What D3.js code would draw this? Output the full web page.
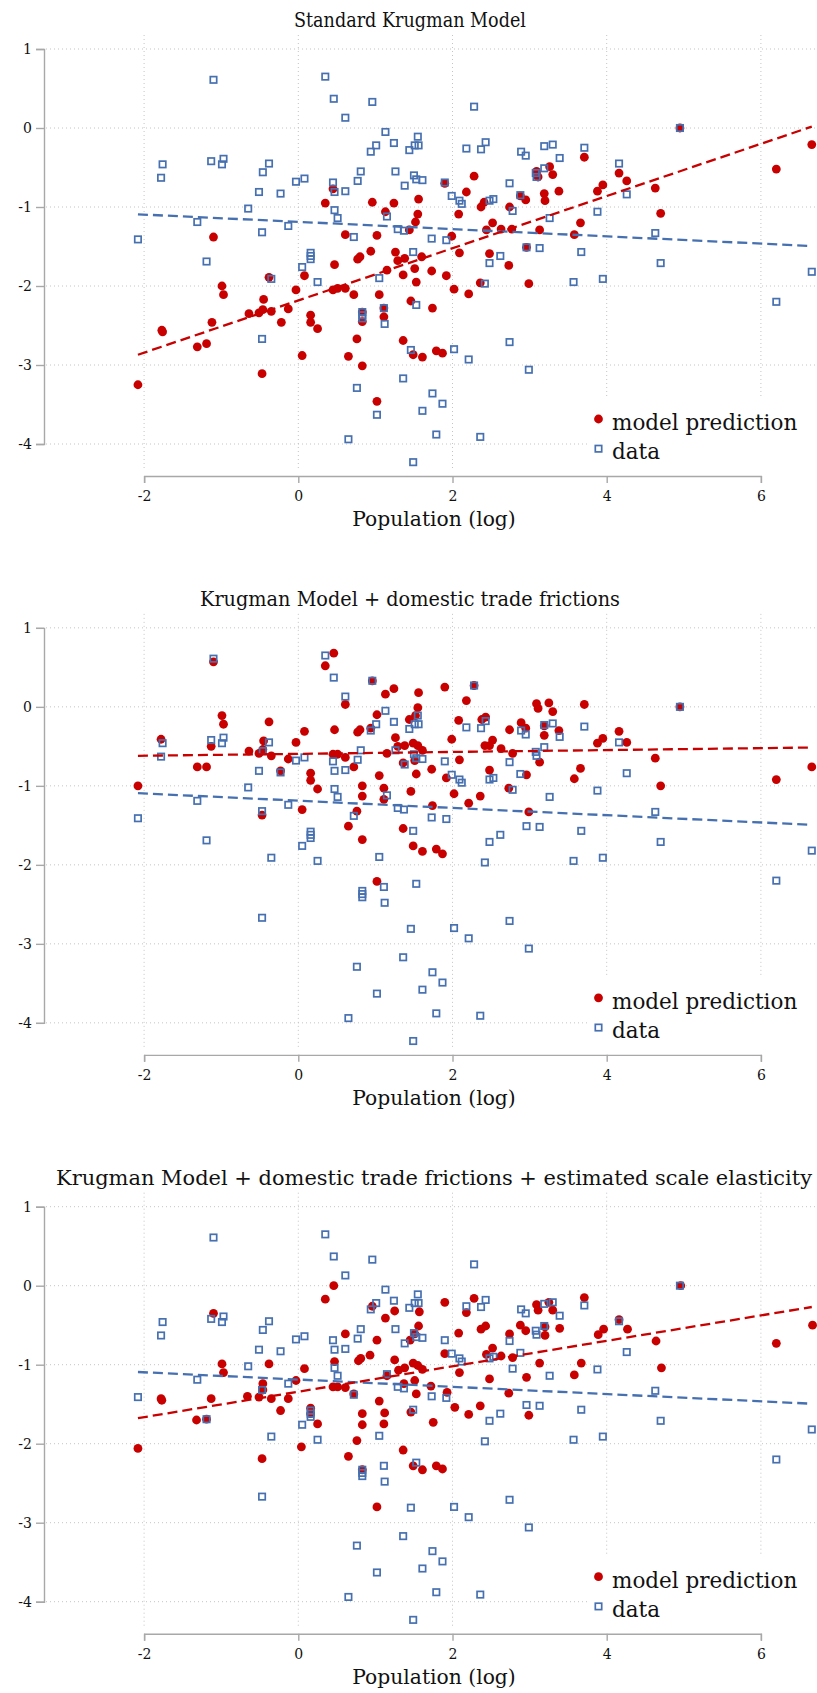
<!DOCTYPE html>
<html><head><meta charset="utf-8">
<script src="https://cdn.jsdelivr.net/npm/d3@7"></script>
<style>body{margin:0;background:#fff} svg{display:block}</style>
</head><body><svg id="c" width="817" height="1693"></svg>
<script>
const titles = [
  "Standard Krugman Model",
  "Krugman Model + domestic trade frictions",
  "Krugman Model + domestic trade frictions + estimated scale elasticity"
];
const xTicks = [-2, 0, 2, 4, 6];
const yTicks = [1, 0, -1, -2, -3, -4];
const xLabel = "Population (log)";
const legendLabels = ["model prediction", "data"];

// observed data (same in all panels): [log population, value]
const dataPts = [
[-1.10,0.61],[0.35,0.65],[0.46,0.37],[0.96,0.33],[0.61,0.13],[1.13,-0.05],[1.01,-0.22],[0.94,-0.30],
[1.24,-0.19],[1.55,-0.11],[1.51,-0.22],[1.56,-0.22],[1.44,-0.28],[-1.76,-0.46],[-1.78,-0.63],[-1.13,-0.42],
[-0.99,-0.46],[-0.97,-0.39],[-0.38,-0.45],[-0.46,-0.56],[-0.03,-0.68],[0.08,-0.64],[-0.51,-0.81],[-0.23,-0.83],
[0.45,-0.69],[0.47,-0.81],[0.61,-0.80],[0.81,-0.55],[0.77,-0.67],[1.26,-0.55],[1.50,-0.60],[1.53,-0.65],
[1.61,-0.66],[1.38,-0.73],[1.90,-0.69],[1.99,-0.86],[2.09,-0.92],[2.12,-0.96],[-0.65,-1.02],[-1.31,-1.19],
[-2.08,-1.41],[-0.47,-1.32],[-0.13,-1.24],[0.47,-1.04],[0.51,-1.14],[1.15,-1.12],[1.29,-1.28],[1.37,-1.30],
[0.72,-1.38],[1.73,-1.40],[1.92,-1.42],[1.49,-1.57],[0.16,-1.58],[0.16,-1.62],[0.16,-1.66],[-1.19,-1.69],
[0.05,-1.76],[2.28,0.27],[2.18,-0.26],[2.37,-0.27],[2.43,-0.18],[2.89,-0.30],[2.95,-0.35],[3.19,-0.23],
[3.30,-0.21],[3.39,-0.38],[3.71,-0.25],[4.16,-0.45],[4.95,0.00],[3.08,-0.57],[3.09,-0.62],[3.19,-0.51],
[2.74,-0.70],[2.88,-0.85],[2.48,-0.92],[2.53,-0.90],[2.78,-1.05],[3.26,-1.14],[3.88,-1.06],[4.26,-0.84],
[4.63,-1.33],[2.96,-1.51],[3.13,-1.52],[2.62,-1.62],[2.48,-1.71],[3.67,-1.57],[4.70,-1.71],[6.66,-1.82],
[2.42,-1.97],[3.57,-1.95],[3.95,-1.91],[6.20,-2.20],[2.02,-2.80],[2.21,-2.93],[2.74,-2.71],[2.99,-3.06],
[1.87,-3.49],[2.36,-3.91],[1.79,-3.88],[-0.35,-1.91],[0.25,-1.95],[1.05,-1.90],[0.83,-2.33],[0.83,-2.37],
[0.83,-2.41],[1.11,-2.28],[1.12,-2.48],[1.53,-2.24],[-0.47,-2.67],[1.46,-2.81],[1.36,-3.17],[0.76,-3.29],
[1.74,-3.36],[1.61,-3.58],[1.02,-3.63],[0.65,-3.94],[1.49,-4.23]
];

// model predictions, panel 1: standard Krugman model
const model1Pts = [
[0.45,-0.77],[0.35,-0.95],[0.96,-0.94],[1.24,-0.95],[1.56,-0.90],[1.13,-1.06],[1.55,-1.09],[1.52,-1.19],
[1.44,-1.29],[0.61,-1.35],[1.02,-1.36],[-1.10,-1.38],[1.90,-0.70],[2.08,-1.09],[1.99,-1.37],[2.09,-1.58],
[0.94,-1.56],[1.26,-1.57],[0.80,-1.63],[0.77,-1.66],[0.47,-1.73],[1.29,-1.68],[1.38,-1.65],[1.60,-1.63],
[1.51,-1.78],[1.15,-1.80],[1.73,-1.81],[1.36,-1.86],[1.92,-1.87],[2.02,-2.04],[1.53,-1.95],[-0.99,-2.00],
[-0.97,-2.11],[-0.38,-1.89],[0.08,-1.87],[-0.03,-2.05],[0.45,-2.05],[0.51,-2.03],[0.61,-2.03],[0.72,-2.11],
[1.05,-2.11],[-0.45,-2.17],[-0.64,-2.35],[-0.51,-2.34],[-0.46,-2.30],[-0.35,-2.32],[-0.13,-2.29],[0.16,-2.37],
[0.16,-2.46],[0.25,-2.54],[-0.22,-2.46],[-1.12,-2.46],[-1.77,-2.56],[-1.76,-2.58],[-1.31,-2.77],[-1.19,-2.73],
[0.83,-2.33],[0.83,-2.45],[1.11,-2.28],[1.11,-2.39],[1.46,-2.19],[1.74,-2.28],[0.76,-2.67],[1.36,-2.69],
[1.49,-2.87],[1.61,-2.90],[1.79,-2.82],[1.87,-2.85],[0.05,-2.88],[0.65,-2.89],[0.83,-3.01],[-0.47,-3.11],
[-2.08,-3.25],[1.02,-3.46],[2.21,-2.10],[2.36,-1.96],[2.73,-1.74],[2.99,-1.97],[2.28,-0.61],[2.18,-0.81],
[2.37,-1.00],[2.41,-0.94],[2.52,-1.20],[2.44,-1.29],[2.63,-1.28],[2.77,-1.28],[2.74,-1.00],[2.88,-0.86],
[2.95,-0.91],[3.09,-0.55],[3.11,-0.62],[3.26,-0.49],[3.30,-0.59],[3.19,-0.83],[3.20,-0.92],[3.38,-0.80],
[3.13,-1.29],[2.48,-1.59],[2.96,-1.51],[3.71,-0.37],[3.88,-0.80],[3.95,-0.72],[4.16,-0.57],[4.26,-0.67],
[4.63,-0.76],[4.70,-1.08],[3.66,-1.20],[3.58,-1.35],[4.95,0.00],[6.20,-0.52],[6.66,-0.21]
];

// panel 2: + domestic trade frictions
const model2Pts = [
[0.46,0.68],[0.35,0.52],[-1.10,0.57],[0.96,0.33],[1.13,0.16],[1.24,0.23],[1.56,0.18],[1.90,0.25],
[0.61,0.03],[1.55,-0.01],[1.02,-0.10],[1.52,-0.11],[1.44,-0.16],[2.08,-0.17],[-0.99,-0.11],[-0.97,-0.22],
[-0.38,-0.19],[0.08,-0.31],[-0.03,-0.45],[0.47,-0.29],[0.80,-0.29],[0.77,-0.32],[0.94,-0.27],[1.26,-0.39],
[1.99,-0.41],[-1.78,-0.41],[-1.13,-0.50],[-0.45,-0.43],[-0.64,-0.56],[-0.51,-0.59],[-0.46,-0.54],[-0.35,-0.62],
[-0.13,-0.66],[0.45,-0.60],[0.51,-0.60],[0.61,-0.64],[0.72,-0.76],[1.29,-0.50],[1.38,-0.49],[1.49,-0.46],
[1.55,-0.49],[1.61,-0.55],[1.15,-0.59],[1.51,-0.68],[1.36,-0.71],[2.09,-0.67],[1.73,-0.79],[1.53,-0.85],
[1.92,-0.90],[2.02,-1.10],[-1.31,-0.76],[-1.19,-0.76],[-0.23,-0.81],[0.16,-0.84],[0.16,-0.93],[0.25,-1.04],
[1.05,-0.87],[0.83,-1.00],[0.83,-1.13],[1.11,-1.03],[1.11,-1.17],[1.46,-1.07],[1.74,-1.25],[-2.08,-1.00],
[-0.47,-1.37],[0.05,-1.30],[0.76,-1.32],[0.65,-1.51],[0.83,-1.68],[1.36,-1.54],[1.49,-1.76],[1.61,-1.83],
[1.79,-1.80],[1.87,-1.86],[1.02,-2.21],[2.28,0.27],[2.18,0.08],[2.38,-0.16],[2.43,-0.13],[2.21,-1.22],
[2.36,-1.13],[2.42,-0.49],[2.48,-0.49],[2.52,-0.42],[2.63,-0.53],[2.78,-0.59],[2.74,-0.29],[2.89,-0.20],
[2.95,-0.27],[2.48,-0.80],[2.73,-1.03],[2.96,-0.86],[2.99,-1.33],[3.09,0.04],[3.11,-0.02],[3.25,0.05],
[3.30,-0.06],[3.19,-0.24],[3.19,-0.36],[3.38,-0.30],[3.13,-0.70],[3.71,0.03],[3.88,-0.46],[3.95,-0.40],
[4.16,-0.31],[4.26,-0.45],[4.63,-0.65],[4.70,-1.00],[3.66,-0.78],[3.58,-0.91],[4.95,0.00],[6.20,-0.92],
[6.66,-0.76]
];

// panel 3: + estimated scale elasticity
const model3Pts = [
[0.46,0.00],[0.35,-0.17],[-1.10,-0.35],[0.96,-0.26],[1.25,-0.32],[1.13,-0.41],[1.57,-0.33],[1.90,-0.21],
[1.56,-0.51],[0.61,-0.61],[1.02,-0.69],[1.51,-0.61],[1.45,-0.69],[2.08,-0.60],[-0.99,-0.99],[-0.97,-1.10],
[-0.38,-0.99],[0.08,-1.05],[-0.03,-1.20],[0.47,-0.96],[0.81,-0.92],[0.78,-0.95],[0.93,-0.88],[1.25,-0.94],
[1.90,-0.86],[-1.78,-1.43],[-1.77,-1.45],[-1.13,-1.43],[-0.46,-1.24],[-0.66,-1.40],[-0.51,-1.41],[-0.46,-1.32],
[-0.35,-1.43],[-0.13,-1.43],[0.45,-1.28],[0.51,-1.28],[0.61,-1.29],[0.72,-1.37],[1.30,-1.07],[1.38,-1.04],
[1.49,-0.98],[1.55,-1.01],[1.61,-1.06],[1.15,-1.14],[1.51,-1.20],[1.37,-1.24],[2.09,-1.10],[1.72,-1.27],
[1.53,-1.37],[1.93,-1.35],[2.03,-1.54],[-1.32,-1.70],[-1.19,-1.69],[-0.23,-1.58],[0.16,-1.55],[0.16,-1.62],
[0.25,-1.75],[1.05,-1.46],[0.83,-1.62],[0.83,-1.76],[1.12,-1.61],[1.11,-1.75],[1.46,-1.60],[1.75,-1.73],
[-2.08,-2.06],[-0.47,-2.19],[0.04,-2.04],[0.76,-1.96],[0.65,-2.16],[0.83,-2.33],[1.36,-2.08],[1.49,-2.28],
[1.61,-2.33],[1.79,-2.28],[1.87,-2.32],[1.02,-2.80],[2.28,-0.16],[2.18,-0.34],[2.37,-0.55],[2.43,-0.51],
[2.21,-1.63],[2.36,-1.52],[2.52,-0.79],[2.44,-0.87],[2.63,-0.89],[2.78,-0.91],[2.74,-0.61],[2.88,-0.50],
[2.95,-0.57],[2.48,-1.18],[2.73,-1.36],[2.96,-1.16],[2.99,-1.64],[3.09,-0.24],[3.11,-0.31],[3.25,-0.21],
[3.30,-0.31],[3.20,-0.52],[3.20,-0.63],[3.39,-0.54],[3.13,-0.98],[3.71,-0.15],[3.89,-0.62],[3.96,-0.55],
[4.16,-0.43],[4.27,-0.55],[4.64,-0.70],[4.71,-1.04],[3.67,-0.98],[3.58,-1.13],[4.96,0.00],[6.20,-0.73],
[6.67,-0.50]
];

// linear fits: [intercept, slope]
const dataFit = [-1.188, -0.0459];
const modelFits = [[-2.183, 0.3304], [-0.595, 0.012], [-1.342, 0.161]];
const modelSeries = [model1Pts, model2Pts, model3Pts];

const RED = "#c80000", BLUE = "#4670b0", GRID = "#c4c4c4", AXIS = "#a8a8a8";
const FONT = "'DejaVu Serif', serif";
const svg = d3.select("#c");
const x = d3.scaleLinear().domain([-2, 6]).range([144.1, 760.9]);
const panelStep = 578.85;
const titleWidths = [232, 420, 756];

const xMin = d3.min(dataPts, d => d[0]), xMax = d3.max(dataPts, d => d[0]);

titles.forEach((title, i) => {
  const oy = i * panelStep;
  const y = d3.scaleLinear().domain([1, -4]).range([49 + oy, 444 + oy]);
  const g = svg.append("g");

  // title, centred, pushed right if it would run past the left margin
  const tw = titleWidths[i];
  g.append("text").text(title)
    .attr("font-family", FONT).attr("font-size", 19.5).attr("fill", "#111")
    .attr("textLength", tw).attr("lengthAdjust", "spacingAndGlyphs")
    .attr("text-anchor", "middle").attr("y", 27 + oy)
    .attr("x", Math.max(410, 56 + tw / 2));

  // gridlines
  g.append("g").selectAll("line").data(yTicks).join("line")
    .attr("x1", 46).attr("x2", 817).attr("y1", d => y(d)).attr("y2", d => y(d))
    .attr("stroke", GRID).attr("stroke-width", 1).attr("stroke-dasharray", "1,3");
  g.append("g").selectAll("line").data(xTicks).join("line")
    .attr("x1", d => x(d)).attr("x2", d => x(d)).attr("y1", 35 + oy).attr("y2", 471 + oy)
    .attr("stroke", GRID).attr("stroke-width", 1).attr("stroke-dasharray", "1,3");

  // model points (red), then data (blue hollow squares)
  g.append("g").selectAll("circle").data(modelSeries[i]).join("circle")
    .attr("cx", d => x(d[0])).attr("cy", d => y(d[1])).attr("r", 4.4).attr("fill", RED);
  const s = 6.4;
  g.append("g").selectAll("rect").data(dataPts).join("rect")
    .attr("x", d => x(d[0]) - s / 2).attr("y", d => y(d[1]) - s / 2)
    .attr("width", s).attr("height", s)
    .attr("fill", "none").attr("stroke", BLUE).attr("stroke-width", 1.7);

  // fit lines
  const fitLine = (f) => [[xMin, f[0] + f[1] * xMin], [xMax, f[0] + f[1] * xMax]];
  const line = d3.line().x(d => x(d[0])).y(d => y(d[1]));
  g.append("path").attr("d", line(fitLine(dataFit))).attr("fill", "none")
    .attr("stroke", BLUE).attr("stroke-width", 2.3).attr("stroke-dasharray", "10,5");
  g.append("path").attr("d", line(fitLine(modelFits[i]))).attr("fill", "none")
    .attr("stroke", RED).attr("stroke-width", 2.3).attr("stroke-dasharray", "10,5");

  // legend (white box)
  g.append("rect").attr("x", 587).attr("y", 397 + oy).attr("width", 230).attr("height", 73).attr("fill", "#fff");
  g.append("circle").attr("cx", 598.5).attr("cy", 419 + oy).attr("r", 4.4).attr("fill", RED);
  g.append("rect").attr("x", 598.5 - s / 2).attr("y", 448.7 + oy - s / 2).attr("width", s).attr("height", s)
    .attr("fill", "none").attr("stroke", BLUE).attr("stroke-width", 1.7);
  g.append("text").text(legendLabels[0]).attr("x", 612).attr("y", 430 + oy)
    .attr("font-family", FONT).attr("font-size", 21.5).attr("fill", "#111");
  g.append("text").text(legendLabels[1]).attr("x", 612).attr("y", 459 + oy)
    .attr("font-family", FONT).attr("font-size", 21.5).attr("fill", "#111");

  // y axis
  const ya = g.append("g").attr("transform", "translate(44,0)")
    .call(d3.axisLeft(y).tickValues(yTicks).tickSize(8).tickPadding(4).tickFormat(d => d < 0 ? "-" + Math.abs(d) : d));
  ya.select(".domain").attr("stroke", AXIS).attr("stroke-width", 1.4);
  ya.selectAll(".tick line").attr("stroke", AXIS).attr("stroke-width", 1.4);
  ya.selectAll("text").attr("font-family", FONT).attr("font-size", 14).attr("fill", "#111");

  // x axis
  const xa = g.append("g").attr("transform", `translate(0,${476 + oy})`)
    .call(d3.axisBottom(x).tickValues(xTicks).tickSize(7).tickPadding(8).tickFormat(d => d < 0 ? "-" + Math.abs(d) : d));
  xa.select(".domain").attr("stroke", AXIS).attr("stroke-width", 1.4);
  xa.selectAll(".tick line").attr("stroke", AXIS).attr("stroke-width", 1.4);
  xa.selectAll("text").attr("font-family", FONT).attr("font-size", 14).attr("fill", "#111");

  g.append("text").text(xLabel).attr("x", 434).attr("y", 526 + oy).attr("text-anchor", "middle")
    .attr("font-family", FONT).attr("font-size", 20.3).attr("fill", "#111");
});
</script></body></html>
